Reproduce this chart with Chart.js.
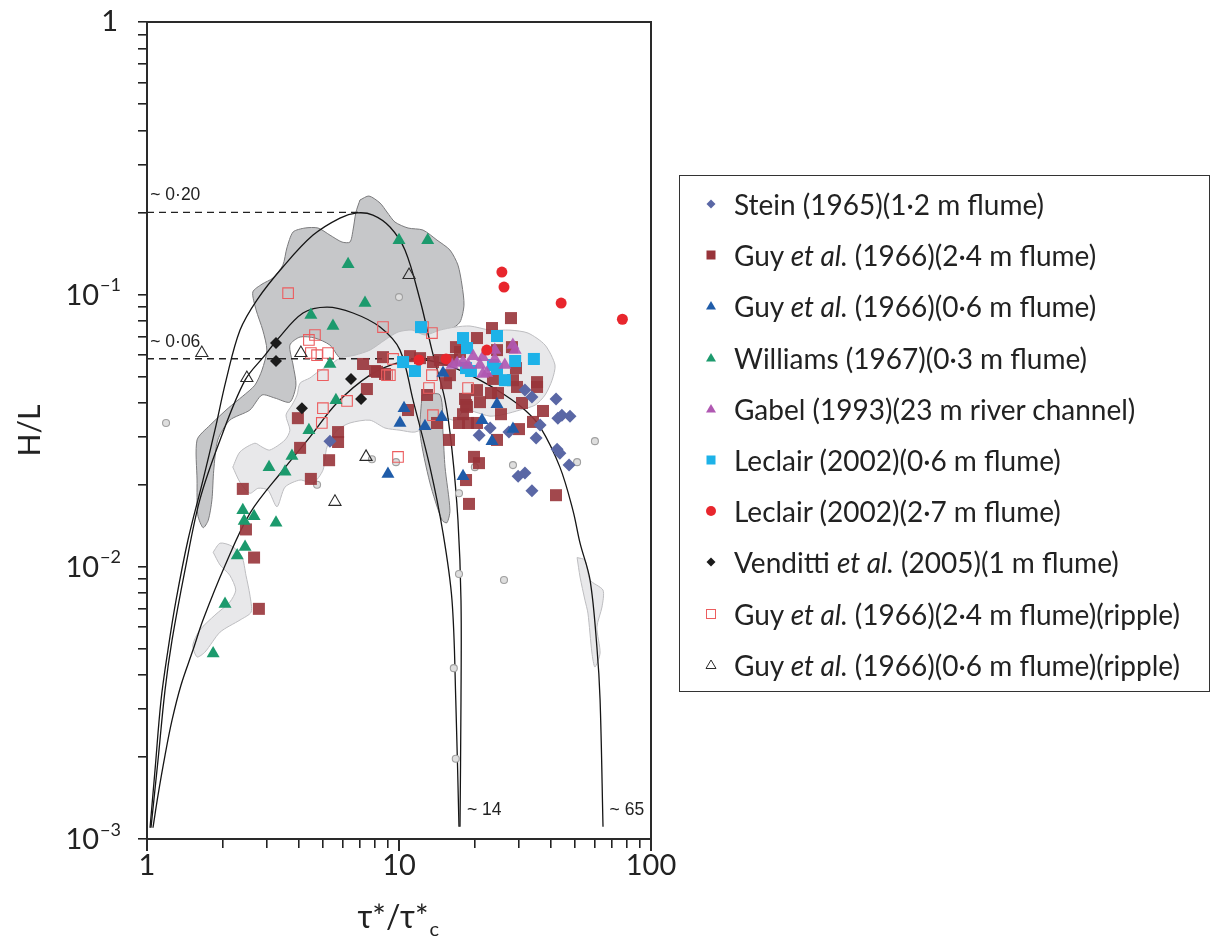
<!DOCTYPE html>
<html>
<head>
<meta charset="utf-8">
<script src="https://cdn.jsdelivr.net/npm/chart.js@4.4.1/dist/chart.umd.min.js"></script>
<style>
  html, body { margin: 0; padding: 0; background: #fff; overflow: hidden; }
  #wrap { position: relative; width: 1213px; height: 941px; }
  #legend {
    position: absolute; left: 679px; top: 175px; width: 531px; height: 517px;
    border: 1.5px solid #333; box-sizing: border-box;
    font-family: Lato, "Open Sans", sans-serif; font-size: 28px; color: #222;
  }
  .row { position: absolute; left: 0; height: 34px; line-height: 34px; white-space: nowrap; }
  .row svg { position: absolute; left: 22px; top: 8px; }
  .row span { position: absolute; left: 54px; }
</style>
</head>
<body>
<div id="wrap">
  <canvas id="chart" width="1213" height="941"></canvas>
  <div id="legend"></div>
</div>
<script>
// ---- data (tau*/tau*c , H/L) ----
const seriesNames = [
  'Stein (1965)(1·2 m flume)',
  'Guy et al. (1966)(2·4 m flume)',
  'Guy et al. (1966)(0·6 m flume)',
  'Williams (1967)(0·3 m flume)',
  'Gabel (1993)(23 m river channel)',
  'Leclair (2002)(0·6 m flume)',
  'Leclair (2002)(2·7 m flume)',
  'Venditti et al. (2005)(1 m flume)',
  'Guy et al. (1966)(2·4 m flume)(ripple)',
  'Guy et al. (1966)(0·6 m flume)(ripple)'
];

const stein = [[5.32,0.0289],[20.8,0.0304],[23.0,0.0323],[27.3,0.0312],[29.7,0.0215],[31.6,0.0221],[31.6,0.0445],[33.7,0.042],[33.7,0.019],[35.0,0.0297],[36.3,0.0331],[42.0,0.0413],[42.4,0.027],[43.5,0.0261],[42.7,0.0351],[44.3,0.036],[47.7,0.0357],[47.3,0.0236]];

const guy24 = [[2.40,0.0193],[2.47,0.0137],[2.66,0.0108],[2.78,0.0070],[3.97,0.0351],[4.05,0.0273],[4.47,0.0210],[5.28,0.0246],[5.73,0.0312],[5.73,0.0287],[7.46,0.0449],[8.18,0.0519],[8.80,0.0510],[8.64,0.0588],[7.20,0.0555],[8.03,0.0523],[13.64,0.0564],[16.83,0.0640],[16.23,0.0574],[17.46,0.0614],[24.48,0.0624],[28.07,0.0640],[29.12,0.0536],[23.60,0.0489],[28.33,0.0484],[29.39,0.0457],[35.30,0.0476],[35.30,0.0457],[20.39,0.0445],[24.71,0.0434],[23.18,0.0434],[15.37,0.0472],[15.93,0.0505],[12.92,0.0427],[18.28,0.0413],[18.62,0.0386],[17.95,0.0363],[30.77,0.0399],[37.27,0.0373],[34.02,0.0340],[17.30,0.0337],[18.79,0.0337],[14.15,0.0337],[25.40,0.0363],[10.86,0.0376],[15.79,0.0292],[18.45,0.0392],[20.96,0.0402],[20.39,0.0337],[24.48,0.0292],[19.84,0.0253],[20.77,0.0240],[18.45,0.0208],[18.96,0.0170],[29.93,0.0320],[41.98,0.0183],[27.82,0.0818],[23.39,0.0752],[20.39,0.0691],[11.06,0.0593],[12.12,0.0583],[14.55,0.0574]];

const guy06 = [[10.47,0.0382],[10.09,0.0337],[12.68,0.0328],[14.77,0.0354],[9.04,0.0219],[17.95,0.0215],[21.35,0.0345],[24.48,0.0395],[23.39,0.0289],[28.33,0.032],[14.95,0.0514]];

const williams = [[13.0,0.158],[10.0,0.158],[6.28,0.129],[7.33,0.0929],[4.47,0.0839],[5.47,0.0765],[5.32,0.0555],[5.62,0.0408],[4.39,0.0317],[3.76,0.0255],[3.05,0.0232],[3.53,0.0223],[2.40,0.0161],[2.66,0.0153],[2.43,0.0147],[3.25,0.0145],[2.45,0.0118],[2.28,0.0110],[2.04,0.0073],[1.83,0.0048]];

const gabel = [[28.3,0.0651],[28.9,0.0624],[24.0,0.0624],[21.5,0.0588],[19.7,0.0593],[20.96,0.055],[22.3,0.0514],[18.79,0.055],[17.95,0.0564],[17.0,0.056],[26.3,0.055],[24.0,0.0579],[21.5,0.051],[16.23,0.055]];

const leclair06 = [[12.23,0.0758],[17.95,0.0691],[18.62,0.0635],[24.48,0.0703],[34.3,0.0579],[28.9,0.0569],[10.38,0.0564],[11.57,0.0523],[18.45,0.0536],[19.3,0.0523],[23.6,0.055],[24.48,0.0532],[26.3,0.0484]];

const leclair27 = [[25.6,0.1207],[26.1,0.1063],[44.0,0.0929],[77.0,0.081],[12.0,0.0574],[15.37,0.0579],[22.3,0.0624]];

const venditti = [[3.25,0.0663],[3.25,0.0569],[4.12,0.0382],[6.45,0.0489],[7.07,0.0413]];

const guyRipple24 = [[3.63,0.101],[8.64,0.0758],[4.64,0.0709],[4.39,0.068],[4.47,0.0609],[4.73,0.0598],[5.23,0.0609],[4.99,0.0505],[6.22,0.0406],[4.99,0.0382],[4.94,0.0337],[8.96,0.0505],[9.91,0.0253],[12.45,0.0758],[13.51,0.0721],[9.47,0.0579],[9.2,0.0505],[13.51,0.0505],[13.15,0.0453],[18.79,0.0453],[13.64,0.036]];

const guyRipple06 = [[1.65,0.0609],[2.49,0.0493],[4.08,0.0609],[10.96,0.1177],[7.40,0.0253],[5.57,0.0173]];

// unlabelled small grey points
const greyPts = [[1.19,0.0337],[10.0,0.0977],[7.81,0.0248],[9.73,0.0242],[4.73,0.02],[28.33,0.0236],[20.0,0.0232],[50.9,0.0242],[59.9,0.0289],[26.1,0.00893],[17.3,0.0094],[17.3,0.0186],[16.5,0.00424],[16.8,0.00197]];

// envelope curves
const outerCurve = [[1.028,0.0011],[1.076,0.00179],[1.137,0.00324],[1.211,0.00494],[1.304,0.00753],[1.454,0.01253],[1.668,0.0208],[1.86,0.0317],[2.06,0.0484],[2.34,0.0739],[2.73,0.0953],[3.46,0.126],[4.56,0.165],[5.83,0.1906],[6.81,0.199],[7.88,0.1955],[9.21,0.1767],[10.56,0.1454],[12.12,0.0953],[13.51,0.0624],[15.23,0.0409],[16.23,0.0268],[17.14,0.0148],[17.62,0.00753],[17.62,0.00324],[17.46,0.00111]];
const middleCurve = [[1.037,0.0011],[1.106,0.00195],[1.179,0.00352],[1.257,0.00537],[1.415,0.00972],[1.62,0.0176],[1.95,0.0292],[2.45,0.0484],[2.94,0.0598],[3.28,0.068],[4.16,0.0854],[5.18,0.0898],[6.57,0.0854],[8.41,0.0758],[10.09,0.0624],[11.37,0.0409],[13.27,0.0232],[14.95,0.0133],[16.23,0.00753],[16.8,0.00324],[17.3,0.00111]];
const innerCurve = [[1.056,0.0011],[1.106,0.00145],[1.179,0.00203],[1.257,0.00273],[1.364,0.00367],[1.522,0.00494],[1.668,0.00637],[2.04,0.0101],[2.56,0.0157],[3.46,0.0226],[4.43,0.0299],[5.67,0.0399],[7.67,0.0505],[10.09,0.0564],[12.68,0.0574],[15.93,0.0545],[20.96,0.0484],[26.3,0.0427],[31.6,0.0376],[36.3,0.0326],[43.5,0.0232],[49.0,0.0161],[52.3,0.0122],[57.3,0.00893],[61.0,0.00507],[62.8,0.00324],[64.5,0.00111]];

const dashed020 = [[1,0.2],[7.0,0.2]];
const dashed006 = [[1,0.058],[14.0,0.058]];

// shaded fields
const darkField = [[7.00,0.222],[7.60,0.2296],[8.41,0.2164],[8.96,0.2005],[9.64,0.1842],[10.86,0.1752],[12.45,0.1722],[14.15,0.1582],[15.93,0.1454],[17.14,0.128],[17.78,0.1082],[18.11,0.0913],[17.46,0.0791],[15.93,0.0739],[14.55,0.0709],[12.68,0.0691],[11.06,0.068],[9.64,0.0651],[8.41,0.0614],[7.33,0.0583],[6.39,0.0574],[5.83,0.0583],[5.32,0.0651],[4.64,0.0691],[4.05,0.0697],[3.69,0.0651],[3.80,0.055],[3.90,0.0464],[3.69,0.0402],[3.22,0.0416],[2.86,0.0427],[2.56,0.0376],[2.13,0.0345],[1.91,0.0292],[1.84,0.0226],[1.81,0.0176],[1.75,0.0148],[1.67,0.0139],[1.59,0.0155],[1.58,0.0208],[1.58,0.0292],[1.78,0.0331],[2.10,0.0382],[2.40,0.0423],[2.68,0.0464],[2.86,0.0527],[2.99,0.0624],[2.88,0.0739],[2.71,0.0876],[2.63,0.102],[2.86,0.109],[3.16,0.1148],[3.46,0.128],[3.59,0.148],[3.80,0.1694],[4.24,0.1752],[4.77,0.1752],[5.32,0.165],[5.94,0.1556],[6.39,0.1556],[6.57,0.1722],[6.75,0.2005]];
const darkTail = [[12.34,0.0427],[14.55,0.0427],[14.95,0.0309],[15.23,0.0232],[15.93,0.0161],[15.5,0.0145],[14.82,0.0148],[13.27,0.0203],[12.12,0.0309]];
const lightField = [[2.19,0.0232],[2.34,0.0264],[2.68,0.0284],[2.86,0.0275],[3.07,0.0268],[3.53,0.0292],[3.69,0.0317],[3.56,0.036],[3.76,0.0392],[3.94,0.0427],[4.05,0.0472],[4.43,0.0493],[4.77,0.0519],[5.32,0.055],[5.83,0.0583],[6.69,0.0598],[7.67,0.0624],[8.80,0.068],[9.91,0.0727],[11.27,0.0739],[12.68,0.0709],[14.55,0.0739],[16.68,0.0758],[19.13,0.0765],[22.96,0.0739],[27.57,0.0739],[32.5,0.0721],[38.0,0.0651],[41.6,0.055],[40.5,0.0484],[38.0,0.0427],[34.7,0.0392],[30.2,0.0376],[26.3,0.0363],[22.96,0.0357],[20.0,0.037],[18.28,0.0376],[16.68,0.0345],[15.23,0.0351],[13.27,0.0331],[11.57,0.0312],[10.09,0.0317],[8.80,0.0323],[7.67,0.0345],[6.39,0.0337],[5.68,0.0317],[5.18,0.0275],[4.99,0.0226],[4.56,0.0203],[4.05,0.0208],[3.53,0.0196],[3.28,0.0166],[3.02,0.0191],[2.76,0.0194],[2.56,0.0186],[2.34,0.0204]];
const lightTail = [[1.83,0.0113],[1.95,0.0122],[2.17,0.0119],[2.38,0.0109],[2.47,0.0093],[2.56,0.00787],[2.59,0.00681],[2.34,0.00637],[1.95,0.00575],[1.70,0.00486],[1.58,0.00466],[1.52,0.00515],[1.62,0.00585],[1.86,0.00664],[2.13,0.00741],[2.25,0.0082],[2.13,0.0093],[1.95,0.01014]];
const lightRight = [[50.9,0.0108],[54.7,0.01057],[57.3,0.00893],[64.5,0.0082],[63.9,0.00711],[61.0,0.006],[62.8,0.00482],[59.9,0.00428],[58.3,0.00482],[56.2,0.00675],[54.7,0.00753],[52.3,0.00916]];

// axes
const xMajor = [1, 10, 100];
const xTickLabels = ['1', '10', '100'];
const yMajor = [0.001, 0.01, 0.1, 1];
const yTickExps = ['−3', '−2', '−1', ''];
const tickMults = [1, 2, 3, 4, 5, 6, 7, 8, 9];

// annotations: [text, x, y]
const notes = [['~ 0·20', 1.03, 0.2], ['~ 0·06', 1.03, 0.058], ['~ 14', 18.6, 0.00114], ['~ 65', 68.5, 0.00114]];

// ---- build ----
const pts = arr => arr.map(([x, y]) => ({ x, y }));
const closed = arr => pts(arr.concat([arr[0]]));

const markerSets = [
  { data: venditti, style: 'rectRot', r: 6, fill: '#1b1b1b', order: 1 },
  { data: guyRipple06, style: 'triangle', r: 7, fill: 'rgba(255,255,255,0)', line: '#2a2a2a', order: 1 },
  { data: leclair27, style: 'circle', r: 5.5, fill: '#e8262d', order: 2 },
  { data: williams, style: 'triangle', r: 7.5, fill: '#1c9a6d', order: 2 },
  { data: guy06, style: 'triangle', r: 7.5, fill: '#1f5ca9', order: 3 },
  { data: gabel, style: 'triangle', r: 7.5, fill: 'rgba(176,88,178,0.92)', order: 3 },
  { data: leclair06, style: 'rect', r: 8.5, fill: '#1db2e8', order: 4 },
  { data: stein, style: 'rectRot', r: 6.5, fill: '#5a67a5', order: 5 },
  { data: guyRipple24, style: 'rect', r: 7.5, fill: 'rgba(255,255,255,0)', line: '#ec5d5f', order: 6 },
  { data: guy24, style: 'rect', r: 8.5, fill: 'rgba(152,52,58,0.9)', order: 7 },
  { data: greyPts, style: 'circle', r: 3.5, fill: '#dedede', line: '#a0a0a0', order: 8 }
];

const datasets = markerSets.map(s => ({
  type: 'scatter', data: pts(s.data), pointStyle: s.style, pointRadius: s.r,
  backgroundColor: s.fill, borderColor: s.line || s.fill, borderWidth: s.line ? 1.1 : 0,
  order: s.order
}));

[outerCurve, middleCurve, innerCurve].forEach(c => datasets.push({
  type: 'line', data: pts(c), borderColor: '#151515', borderWidth: 1.3,
  pointRadius: 0, tension: 0.35, fill: false, order: 9
}));
[dashed020, dashed006].forEach(d => datasets.push({
  type: 'line', data: pts(d), borderColor: '#222', borderWidth: 1.3, borderDash: [7, 5],
  pointRadius: 0, fill: false, order: 9
}));

const fields = [
  { data: darkTail, fill: '#c7c8ca', line: '#7d7d7f', order: 10 },
  { data: lightField, fill: '#e8e8ea', line: '#bdbdc0', order: 11 },
  { data: lightTail, fill: '#e8e8ea', line: '#bdbdc0', order: 11 },
  { data: lightRight, fill: '#e8e8ea', line: '#bdbdc0', order: 11 },
  { data: darkField, fill: '#c6c7c9', line: '#7a7a7c', order: 12 }
];
fields.forEach(f => datasets.push({
  type: 'line', data: closed(f.data), borderColor: f.line, borderWidth: 1,
  backgroundColor: f.fill, fill: 'shape', pointRadius: 0, tension: 0.25, order: f.order
}));

const decadeTicks = majors => {
  const out = [];
  majors.slice(0, -1).forEach(m => tickMults.forEach(k => out.push(m * k)));
  out.push(majors[majors.length - 1]);
  return out;
};

const textLayer = {
  id: 'textLayer',
  afterDraw(chart) {
    const { ctx, chartArea: a, scales: { x, y } } = chart;
    ctx.save();
    // frame
    ctx.strokeStyle = '#2a2a2a';
    ctx.lineWidth = 2;
    ctx.strokeRect(a.left, a.top, a.right - a.left, a.bottom - a.top);
    // longer major ticks on x
    xMajor.forEach(v => {
      const px = x.getPixelForValue(v);
      ctx.beginPath(); ctx.moveTo(px, a.bottom); ctx.lineTo(px, a.bottom + 12); ctx.stroke();
    });
    // y tick labels 10^n
    ctx.fillStyle = '#222';
    ctx.textBaseline = 'middle';
    ctx.textAlign = 'right';
    const right = a.left - 26;
    yMajor.forEach((v, i) => {
      const py = y.getPixelForValue(v);
      const e = yTickExps[i];
      if (!e) {
        ctx.font = '29px Lato';
        ctx.fillText('1', right - 3, py);
        return;
      }
      ctx.font = '18px Lato';
      ctx.fillText(e, right, py - 9);
      const w = ctx.measureText(e).width;
      ctx.font = '29px Lato';
      ctx.fillText('10', right - w - 1, py + 1);
    });
    // annotations
    ctx.font = '17.5px "Liberation Sans"';
    ctx.textAlign = 'left';
    ctx.textBaseline = 'alphabetic';
    notes.forEach(([t, vx, vy], i) => {
      const px = x.getPixelForValue(vx);
      const py = y.getPixelForValue(vy);
      ctx.fillText(t, px, i < 2 ? py - 12 : py - 9);
    });
    // axis titles
    ctx.font = '30px Lato';
    ctx.textAlign = 'center';
    ctx.textBaseline = 'middle';
    ctx.save();
    ctx.translate(30, (a.top + a.bottom) / 2 + 0);
    ctx.rotate(-Math.PI / 2);
    ctx.fillText('H/L', 0, 0);
    ctx.restore();
    const cx = x.getPixelForValue(10);
    const main = 'τ*/τ*';
    ctx.font = '32px Lato';
    const mw = ctx.measureText(main).width;
    ctx.textAlign = 'left';
    ctx.fillText(main, cx - mw / 2 - 6, a.bottom + 79);
    ctx.font = '20px Lato';
    ctx.fillText('c', cx + mw / 2 - 5, a.bottom + 91);
    ctx.restore();
  }
};

const axisCommon = {
  type: 'logarithmic',
  border: { display: true, color: '#222', width: 2 },
  grid: { drawOnChartArea: false, color: '#222', lineWidth: 1.6, tickLength: 9 }
};

new Chart(document.getElementById('chart'), {
  type: 'scatter',
  data: { datasets },
  options: {
    responsive: false,
    animation: false,
    devicePixelRatio: 1,
    layout: { padding: { left: 0, right: 562, top: 22, bottom: 0 } },
    plugins: { legend: { display: false }, tooltip: { enabled: false } },
    scales: {
      x: Object.assign({}, axisCommon, {
        min: xMajor[0], max: xMajor[xMajor.length - 1],
        afterFit: s => { s.height = 102; },
        afterBuildTicks: s => { s.ticks = decadeTicks(xMajor).map(v => ({ value: v })); },
        ticks: {
          autoSkip: false, maxRotation: 0, padding: 0, color: '#222',
          font: { family: 'Lato', size: 29 },
          callback: v => {
            const i = xMajor.findIndex(m => Math.abs(m - v) < 1e-9);
            return i >= 0 ? xTickLabels[i] : '';
          }
        }
      }),
      y: Object.assign({}, axisCommon, {
        min: yMajor[0], max: yMajor[yMajor.length - 1],
        afterFit: s => { s.width = 147; },
        afterBuildTicks: s => { s.ticks = decadeTicks(yMajor).map(v => ({ value: v })); },
        ticks: { autoSkip: false, callback: () => '' }
      })
    }
  },
  plugins: [textLayer]
});

// ---- legend ----
const legendShapes = [
  { shape: 'diamond', color: '#5a67a5' },
  { shape: 'square', color: '#98343a' },
  { shape: 'triangle', color: '#1f5ca9' },
  { shape: 'triangle', color: '#1c9a6d' },
  { shape: 'triangle', color: '#b058b2' },
  { shape: 'square', color: '#1db2e8' },
  { shape: 'circle', color: '#e8262d' },
  { shape: 'diamond', color: '#1b1b1b' },
  { shape: 'square', color: '#ec5d5f', open: true },
  { shape: 'triangle', color: '#2a2a2a', open: true }
];
const svgFor = s => {
  const paint = s.open ? `fill="none" stroke="${s.color}" stroke-width="1"` : `fill="${s.color}"`;
  let el = '';
  if (s.shape === 'diamond') el = `<polygon points="9,4.5 13.5,9 9,13.5 4.5,9" ${paint}/>`;
  if (s.shape === 'square') el = `<rect x="4.5" y="4.5" width="9" height="9" ${paint}/>`;
  if (s.shape === 'triangle') el = `<polygon points="9,4 14,12.5 4,12.5" ${paint}/>`;
  if (s.shape === 'circle') el = `<circle cx="9" cy="9" r="5" ${paint}/>`;
  return `<svg width="18" height="18" viewBox="0 0 18 18">${el}</svg>`;
};
const legend = document.getElementById('legend');
seriesNames.forEach((name, i) => {
  const row = document.createElement('div');
  row.className = 'row';
  row.style.top = (11 + i * 51.2) + 'px';
  row.innerHTML = svgFor(legendShapes[i]) + '<span>' + name.replace('et al.', '<i>et al.</i>') + '</span>';
  legend.appendChild(row);
});
</script>
</body>
</html>
